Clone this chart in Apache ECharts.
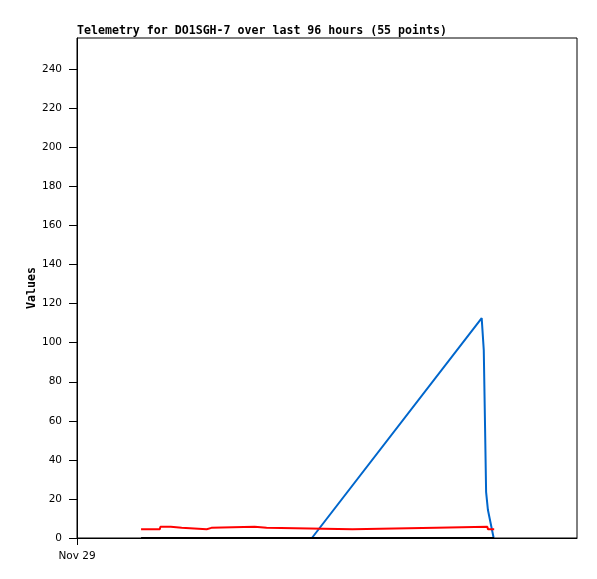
<!DOCTYPE html>
<html>
<head>
<meta charset="utf-8">
<script src="https://cdn.jsdelivr.net/npm/echarts@6/dist/echarts.min.js"></script>
<style>html,body{margin:0;padding:0;background:#fff}#c{width:597px;height:579px}</style>
</head>
<body>
<div id="c"></div>
<script>
// hours since start of window (0..96), values
var titleText = 'Telemetry for DO1SGH-7 over last 96 hours (55 points)';
var yAxisTitle = 'Values';
var xTickValues = [0];
var xTickLabels = ['Nov 29'];
var blueSeries = [[45.1,0],[77.7,112.6],[78.0,112.6],[78.1,96.2],[78.35,56.3],[78.55,23.5],[78.9,14.3],[80.0,0]];
var redSeries = [[12.3,4.5],[15.9,4.5],[16.0,5.7],[18.0,5.7],[18.1,5.2],[20.1,5.2],[20.2,4.5],[24.9,4.5],[25.0,5.2],[25.8,5.2],[25.9,5.7],[34.1,5.7],[34.2,5.2],[36.4,5.2],[36.5,4.5],[52.9,4.5],[53.0,5.2],[69.0,5.2],[69.1,5.7],[78.8,5.7],[78.9,4.5],[80.1,4.5]];
var blackSeries = [[12.3,0],[80.1,0]];

var chart = echarts.init(document.getElementById('c'), null, {renderer:'canvas'});
chart.setOption({
  backgroundColor:'#fff',
  animation:false,
  title:{text:titleText,left:77,top:25,padding:0,
    textStyle:{fontFamily:'DejaVu Sans Mono',fontWeight:'bold',fontSize:11.6,color:'#000'}},
  graphic:[{type:'text',x:32,y:288,rotation:Math.PI/2,
    style:{text:yAxisTitle,fontFamily:'DejaVu Sans Mono',fontWeight:'bold',fontSize:11.6,fill:'#000',align:'center',verticalAlign:'middle'}}],
  grid:{left:77,right:20,top:38,bottom:41,show:true,borderColor:'#000',borderWidth:1,backgroundColor:'transparent'},
  xAxis:{type:'value',min:0,max:96,
    axisLine:{lineStyle:{color:'#000',width:1}},
    axisTick:{show:true,length:7,lineStyle:{color:'#000'},customValues:xTickValues},
    axisLabel:{customValues:xTickValues,margin:13,color:'#000',fontFamily:'DejaVu Sans',fontSize:10.5,
      formatter:function(v){var i=xTickValues.indexOf(v);return i>=0?xTickLabels[i]:'';}},
    splitLine:{show:false}},
  yAxis:{type:'value',min:0,max:256,interval:20,
    axisLine:{show:true,lineStyle:{color:'#000',width:1}},
    axisTick:{show:true,length:8,lineStyle:{color:'#000'}},
    axisLabel:{margin:15,color:'#000',fontFamily:'DejaVu Sans',fontSize:10.5,showMaxLabel:false},
    splitLine:{show:false}},
  series:[
    {type:'line',data:blueSeries,showSymbol:false,symbol:'none',lineStyle:{color:'#0066cc',width:2},z:2},
    {type:'line',data:redSeries,showSymbol:false,symbol:'none',lineStyle:{color:'#ff0000',width:2},z:3},
    {type:'line',data:blackSeries,showSymbol:false,symbol:'none',lineStyle:{color:'#000',width:2},z:4}
  ]
});
</script>
</body>
</html>
